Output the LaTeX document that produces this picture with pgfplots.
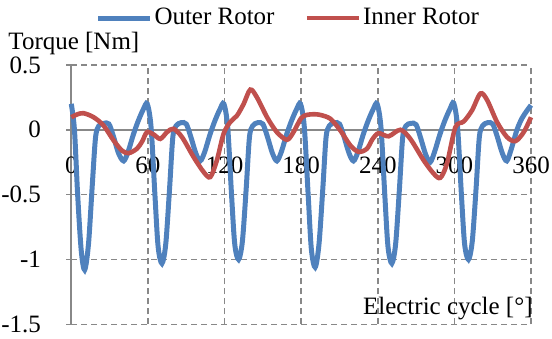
\documentclass[border=0pt]{standalone}
\usepackage{fontspec}
\setmainfont{Liberation Serif}
\usepackage{pgfplots}
\pgfplotsset{compat=1.18}
\definecolor{blueS}{HTML}{4F81BD}
\definecolor{redS}{HTML}{C0504D}
\definecolor{gridc}{HTML}{888888}
\begin{document}
\fontsize{12.5}{15}\selectfont
\begin{tikzpicture}
\useasboundingbox (-35.65pt,-7.25pt) rectangle (240.5pt,162.25pt);
\begin{axis}[
 at={(0pt,0pt)}, anchor=south west,
 scale only axis, width=230pt, height=129.75pt,
 xmin=0,xmax=360,ymin=-1.5,ymax=0.5,
 axis lines=middle, axis line style={-, draw=gridc, line width=0.8pt},
 hide obscured x ticks=false, hide obscured y ticks=false,
 xtick={0,60,...,360}, xticklabels={\textrm{0},\textrm{60},\textrm{120},\textrm{180},\textrm{240},\textrm{300},\textrm{360}},
 ytick={-1.5,-1,-0.5,0,0.5}, yticklabels={\textrm{-1.5},\textrm{-1},\textrm{-0.5},\textrm{0},\textrm{0.5}},
 x tick style={draw=none},
 y tick style={draw=gridc, line width=0.8pt},
 tick align=outside, major tick length=2.5pt,
 grid=major, major grid style={draw=gridc, line width=0.8pt, dash pattern=on 3pt off 2pt},
 tick label style={font=\rmfamily\fontsize{12.5}{15}\selectfont},
 xticklabel style={anchor=north, inner sep=0pt, yshift=-10.6pt},
 yticklabel style={anchor=east, inner sep=0pt, xshift=-12.5pt},
 clip=false,
 legend columns=2,
 legend style={draw=none, fill=none, at={(0.472,1.181)}, anchor=center, nodes={inner sep=1pt}, /tikz/every even column/.append style={column sep=14pt}},
 legend image code/.code={\draw[#1] (0pt,0pt) -- (26pt,0pt);},
]
\addplot[blueS, line width=2.5pt, smooth, tension=0.5] coordinates {
(0,0.20) (2.5,0.0) (5,-0.5) (7.8,-0.93) (10.5,-1.08) (13.5,-0.88) (16.5,-0.42) (19,-0.06) (21.5,0.03) (25.5,0.05) (29.5,0.045) (33,-0.05) (37,-0.18) (41,-0.24) (44.5,-0.17) (48.5,-0.04) (52.5,0.07) (56.5,0.16) (59.5,0.20)
(62.5,0.02) (65.5,-0.5) (68,-0.9) (71,-1.03) (74,-0.88) (77,-0.45) (79.5,-0.06) (82,0.03) (86,0.055) (90,0.045) (93.5,-0.05) (97.5,-0.18) (101,-0.24) (104.5,-0.17) (108.5,-0.04) (112.5,0.07) (116.5,0.16) (119.5,0.20)
(122.5,0.02) (125.5,-0.5) (128,-0.88) (131,-1.0) (134,-0.86) (137,-0.45) (139.5,-0.06) (142,0.03) (146,0.055) (150,0.045) (153.5,-0.05) (157.5,-0.18) (161,-0.24) (164.5,-0.17) (168.5,-0.04) (172.5,0.07) (176.5,0.16) (179.5,0.20)
(182.5,0.02) (185.5,-0.5) (188,-0.92) (191,-1.06) (194,-0.88) (197,-0.45) (199.5,-0.06) (202,0.03) (206,0.055) (210,0.045) (213.5,-0.05) (217.5,-0.18) (221,-0.24) (224.5,-0.17) (228.5,-0.04) (232.5,0.07) (236.5,0.16) (239.5,0.20)
(242.5,0.02) (245.5,-0.5) (248,-0.9) (251,-1.03) (254,-0.88) (257,-0.45) (259.5,-0.06) (262,0.03) (266,0.05) (270,0.04) (273.5,-0.06) (277.5,-0.19) (281,-0.25) (284.5,-0.17) (288.5,-0.04) (292.5,0.07) (296.5,0.16) (299.5,0.205)
(302.5,0.02) (305.5,-0.5) (308,-0.88) (311,-1.0) (314,-0.86) (317,-0.45) (319.5,-0.06) (322,0.03) (326,0.055) (330,0.045) (333.5,-0.05) (337.5,-0.18) (341,-0.24) (344.5,-0.15) (349,0.0) (353,0.09) (357,0.15) (360,0.19)
};
\addlegendentry{Outer Rotor}
\addplot[redS, line width=2.3pt, smooth, tension=0.5] coordinates {
(0,0.097) (5,0.12) (9.7,0.128) (17.5,0.097) (25.3,0.033) (33,-0.08) (39.7,-0.16) (44.9,-0.18) (51.4,-0.146) (55.5,-0.09) (59.3,-0.018) (64.5,-0.036) (69.7,-0.07) (75,-0.018) (80,0.008) (86.7,-0.056) (95.8,-0.21) (103.7,-0.326) (108.9,-0.364) (114,-0.236) (119.3,-0.03) (124.5,0.06) (129.8,0.11) (135,0.2) (140.2,0.31) (145.4,0.25) (153.3,0.097) (161,-0.018) (168.9,-0.077) (174,-0.018) (180,0.09) (184.6,0.115) (190,0.12) (195,0.115) (202.9,0.085) (210.7,-0.005) (218.5,-0.12) (225,-0.17) (231.5,-0.146) (236,-0.07) (240.7,-0.026) (248.5,-0.05) (257.7,0.0) (265.5,-0.07) (276,-0.236) (283.8,-0.338) (289,-0.37) (294.2,-0.26) (300.8,0.02) (307.3,0.064) (313.8,0.15) (320.4,0.28) (325.6,0.23) (333.4,0.06) (341.2,-0.056) (347.8,-0.087) (354.3,-0.018) (360,0.097)
};
\addlegendentry{Inner Rotor}
\node[anchor=base west, inner sep=0pt, xshift=-31.6pt, yshift=7.5pt] at (rel axis cs:0,1) {Torque [Nm]};
\node[anchor=base east, inner sep=0pt, xshift=1pt, yshift=5pt] at (rel axis cs:1,0) {Electric cycle [°]};
\end{axis}
\end{tikzpicture}
\end{document}
